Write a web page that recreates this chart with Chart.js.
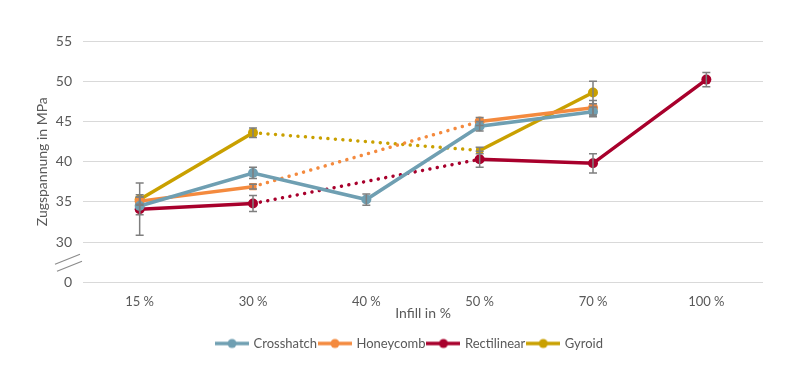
<!DOCTYPE html>
<html>
<head>
<meta charset="utf-8">
<script src="https://cdn.jsdelivr.net/npm/chart.js@4"></script>
<style>
  html, body { margin: 0; padding: 0; background: #fff; }
  #wrap { width: 800px; height: 369px; }
</style>
</head>
<body>
<div id="wrap"><canvas id="chart" width="800" height="369"></canvas></div>
<script>
'use strict';

const infill = ['15\u202F%', '30\u202F%', '40\u202F%', '50\u202F%', '70\u202F%', '100\u202F%'];
const yTicks = [25, 30, 35, 40, 45, 50, 55]; // 25 is drawn as "0" (broken axis)

const crosshatch = [34.5, 38.6, 35.3, 44.4, 46.2, null];
const crosshatchErr = [1.1, 0.7, 0.7, 0.6, 0.6, 0];
const honeycomb = [35.1, 36.9, null, 45.0, 46.7, null];
const honeycombErr = [0.5, 0.3, 0, 0.5, 0.9, 0];
const rectilinear = [34.1, 34.8, null, 40.3, 39.8, 50.2];
const rectilinearErr = [3.25, 1.0, 0, 1.0, 1.2, 0.9];
const gyroid = [35.3, 43.6, null, 41.4, 48.6, null];
const gyroidErr = [0.6, 0.6, 0, 0.4, 1.4, 0];

const grey = '#595959';
const font = 'Lato, "Open Sans", sans-serif';

const skipped = (ctx, value) => ctx.p0.skip || ctx.p1.skip ? value : undefined;

function makeSeries(label, data, err, color, styles) {
  return {
    label: label,
    data: data,
    err: err,
    borderColor: color,
    backgroundColor: color,
    borderWidth: 3.5,
    pointRadius: 5,
    pointHoverRadius: 5,
    pointBorderWidth: 0,
    pointStyle: styles || 'circle',
    spanGaps: true,
    tension: 0,
    segment: {
      borderDash: ctx => skipped(ctx, [0.01, 7.5]),
      borderCapStyle: ctx => skipped(ctx, 'round'),
    },
  };
}

// little legend swatch: line with a dot in the middle
function swatch(color) {
  const c = document.createElement('canvas');
  c.width = 34; c.height = 12;
  const g = c.getContext('2d');
  g.strokeStyle = color; g.lineWidth = 3.5;
  g.beginPath(); g.moveTo(0, 6); g.lineTo(34, 6); g.stroke();
  g.fillStyle = color;
  g.beginPath(); g.arc(17, 6, 4.5, 0, Math.PI * 2); g.fill();
  return c;
}

const errorBars = {
  id: 'errorBars',
  afterDatasetsDraw(chart) {
    const ctx = chart.ctx;
    const y = chart.scales.y;
    ctx.save();
    ctx.strokeStyle = '#7f7f7f';
    ctx.lineWidth = 1.5;
    chart.data.datasets.forEach((ds, i) => {
      const meta = chart.getDatasetMeta(i);
      ds.data.forEach((v, j) => {
        if (v === null || !ds.err[j]) return;
        const px = meta.data[j].x;
        const top = y.getPixelForValue(v + ds.err[j]);
        const bot = y.getPixelForValue(v - ds.err[j]);
        ctx.beginPath();
        ctx.moveTo(px, top); ctx.lineTo(px, bot);
        ctx.moveTo(px - 4, top); ctx.lineTo(px + 4, top);
        ctx.moveTo(px - 4, bot); ctx.lineTo(px + 4, bot);
        ctx.stroke();
      });
    });
    ctx.restore();
  }
};

// axis break marks + axis titles
const extras = {
  id: 'extras',
  afterDraw(chart) {
    const ctx = chart.ctx;
    const y = chart.scales.y;
    const area = chart.chartArea;
    const yb = (y.getPixelForValue(25) + y.getPixelForValue(30)) / 2;
    ctx.save();
    ctx.strokeStyle = '#8c8c8c';
    ctx.lineWidth = 1.2;
    ctx.beginPath();
    ctx.moveTo(55, yb + 2); ctx.lineTo(80, yb - 8);
    ctx.moveTo(57, yb + 9); ctx.lineTo(82, yb - 1);
    ctx.stroke();
    ctx.fillStyle = grey;
    ctx.font = '14px ' + font;
    ctx.textAlign = 'center';
    ctx.textBaseline = 'middle';
    ctx.fillText('Infill in %', (area.left + area.right) / 2, area.bottom + 31);
    ctx.translate(42, (area.top + area.bottom) / 2);
    ctx.rotate(-Math.PI / 2);
    ctx.fillText('Zugspannung in MPa', 0, 0);
    ctx.restore();
  }
};

const data = {
  labels: infill,
  datasets: [
    makeSeries('Crosshatch', crosshatch, crosshatchErr, '#6f9fb2'),
    makeSeries('Honeycomb', honeycomb, honeycombErr, '#f48a3e',
      ['circle', 'rect', 'circle', 'circle', 'circle', 'circle']),
    makeSeries('Rectilinear', rectilinear, rectilinearErr, '#a8002c'),
    makeSeries('Gyroid', gyroid, gyroidErr, '#c9a000',
      ['circle', 'circle', 'circle', 'rect', 'circle', 'circle']),
  ],
};

const config = {
  type: 'line',
  data: data,
  options: {
    responsive: false,
    animation: false,
    layout: { padding: { top: 41, right: 25, left: 45, bottom: 9 } },
    scales: {
      x: {
        offset: true,
        grid: { display: false },
        border: { display: false },
        ticks: { color: grey, font: { family: font, size: 13 }, padding: 4 },
        afterFit: axis => { axis.height += 20; },
      },
      y: {
        min: 25, max: 55,
        afterBuildTicks: axis => { axis.ticks = yTicks.map(v => ({ value: v })); },
        afterFit: axis => { axis.width = 38; },
        grid: { color: '#d9d9d9', lineWidth: 1, drawTicks: false },
        border: { display: false },
        ticks: {
          color: grey, font: { family: font, size: 14 }, padding: 11,
          callback: v => v === 25 ? '0' : String(v),
        },
      },
      // empty spacer on the right so the plot area ends where the reference does
      y2: {
        position: 'right',
        min: 25, max: 55,
        grid: { display: false },
        border: { display: false },
        ticks: { display: false },
        afterFit: axis => { axis.width = 12; },
      },
    },
    plugins: {
      tooltip: { enabled: false },
      legend: {
        position: 'bottom',
        labels: {
          usePointStyle: true,
          pointStyleWidth: 30,
          color: grey,
          font: { family: font, size: 13 },
          padding: 3,
          generateLabels: chart => chart.data.datasets.map((ds, i) => ({
            text: ds.label,
            fontColor: grey,
            pointStyle: swatch(ds.borderColor),
            lineWidth: 0,
            strokeStyle: 'transparent',
            datasetIndex: i,
          })),
        },
      },
    },
  },
  plugins: [errorBars, extras],
};

const myChart = new Chart(document.getElementById('chart'), config);
</script>
</body>
</html>
